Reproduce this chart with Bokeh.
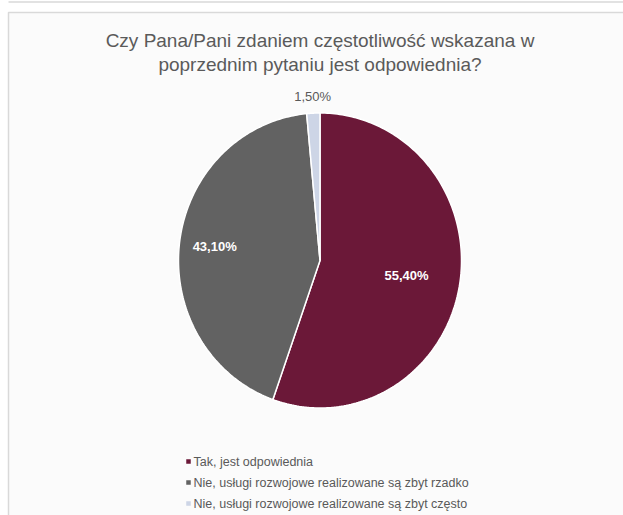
import numpy as np
from bokeh.plotting import figure
from bokeh.models import Range1d, ColumnDataSource
from bokeh.core.properties import value
from bokeh.embed import file_html
from bokeh.resources import INLINE

title_lines = ["Czy Pana/Pani zdaniem częstotliwość wskazana w",
               "poprzednim pytaniu jest odpowiednia?"]
categories = ["Tak, jest odpowiednia",
              "Nie, usługi rozwojowe realizowane są zbyt rzadko",
              "Nie, usługi rozwojowe realizowane są zbyt często"]
values = [55.4, 43.1, 1.5]
value_labels = ["55,40%", "43,10%", "1,50%"]
colors = ["#6B1838", "#626262", "#CDD5E6"]
label_colors = ["#FFFFFF", "#FFFFFF", "#595959"]

W, H = 623, 515
p = figure(width=W, height=H, output_backend="svg", toolbar_location=None,
           x_range=Range1d(0, W), y_range=Range1d(H, 0), min_border=0)
p.axis.visible = False
p.grid.visible = False
p.outline_line_color = None
p.background_fill_color = "#FFFFFF"
p.border_fill_color = "#FFFFFF"

# chart frame
p.line(x=[8, W + 30], y=[1.5, 1.5], line_color="#D9D9D9", line_width=1.5)
p.quad(left=[8], right=[W + 30], top=[12], bottom=[H + 30],
       fill_color="#FBFBFB", line_color="#D9D9D9", line_width=1.5)

# pie (slightly elliptical as in reference)
cx, cy, rx, ry = 319.5, 260, 141.5, 147.5
total = sum(values)
fr = np.cumsum([0] + values) / total
xs, ys = [], []
for i in range(len(values)):
    a = np.linspace(fr[i], fr[i + 1], 200) * 2 * np.pi
    xs.append([cx] + list(cx + rx * np.sin(a)) + [cx])
    ys.append([cy] + list(cy - ry * np.cos(a)) + [cy])
p.patches(xs, ys, fill_color=colors, line_color="white", line_width=1.5)

# data labels
mid = [(fr[i] + fr[i + 1]) / 2 * 2 * np.pi for i in range(len(values))]
rf = [0.62, 0.75, 1.11]
lx = [cx + rx * r * np.sin(m) for r, m in zip(rf, mid)]
ly = [cy - ry * r * np.cos(m) for r, m in zip(rf, mid)]
lsrc = ColumnDataSource(dict(x=lx[:2], y=ly[:2], t=value_labels[:2], c=label_colors[:2]))
p.text(x="x", y="y", text="t", text_color="c", source=lsrc,
       text_font=value("Liberation Sans"), text_font_size="13px", text_font_style="bold",
       text_align="center", text_baseline="middle")
p.text(x=[lx[2]], y=[ly[2]], text=[value_labels[2]], text_color=label_colors[2],
       text_font=value("Liberation Sans"), text_font_size="13px",
       text_align="center", text_baseline="middle")

# title
p.text(x=[cx, cx], y=[40, 64], text=title_lines, text_color="#5A5A5A",
       text_font=value("Liberation Sans"), text_font_size="19px",
       text_align="center", text_baseline="middle")

# legend
leg_y = [461 + 21 * i for i in range(len(categories))]
p.scatter(x=[188] * len(categories), y=leg_y, marker="square", size=4.5,
          fill_color=colors, line_color=None)
p.text(x=[193] * len(categories), y=leg_y, text=categories, text_color="#595959",
       text_font=value("Liberation Sans"), text_font_size="12.5px",
       text_align="left", text_baseline="middle")

open("out.html", "w").write(file_html(p, INLINE))
